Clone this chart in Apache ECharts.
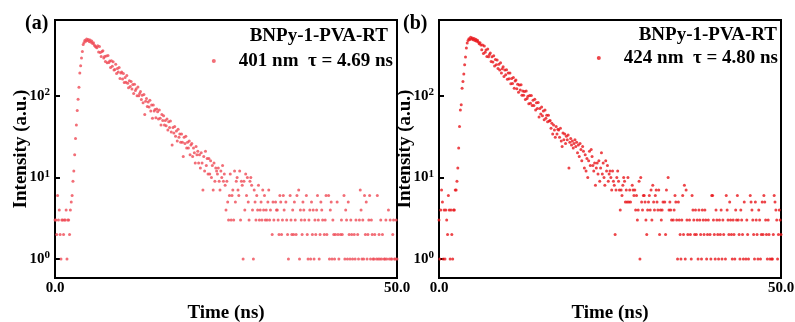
<!DOCTYPE html>
<html>
<head>
<meta charset="utf-8">
<script src="https://cdn.jsdelivr.net/npm/echarts@6/dist/echarts.min.js"></script>
<style>
  html, body { margin: 0; padding: 0; background: #fff; }
  #chart { width: 795px; height: 322px; }
</style>
</head>
<body>
<div id="chart"></div>
<script>
// TCSPC decay curves, one count per 0.125 ns channel, 0 - 50 ns
var channelWidth = 0.125
var xTicks = [0, 50]
var panelLabels = ['(a)', '(b)']
var sampleName = 'BNPy-1-PVA-RT'
var seriesNames = ['401 nm  τ = 4.69 ns', '424 nm  τ = 4.80 ns']

var countsA = [
  3, 3, 2, 6, 3, 4, 2, 1, 3, 3,
  2, 3, 3, 4, 1, 3, 3, 2, 4, 5,
  6, 9, 12, 19, 30, 44, 66, 91, 127, 190,
  234, 290, 350, 426, 452, 481, 468, 497, 476, 489,
  462, 483, 455, 470, 438, 446, 421, 405, 398, 389,
  410, 344, 403, 340, 303, 350, 356, 290, 304, 263,
  308, 255, 312, 256, 267, 222, 270, 231, 261, 208,
  210, 243, 188, 216, 196, 222, 163, 191, 196, 161,
  188, 146, 168, 147, 177, 143, 126, 153, 130, 150,
  121, 138, 107, 139, 116, 122, 100, 128, 100, 107,
  113, 90, 102, 82, 104, 59, 86, 93, 74, 84,
  73, 88, 65, 77, 53, 77, 65, 68, 54, 69,
  64, 52, 67, 53, 44, 59, 50, 57, 44, 50,
  43, 52, 38, 48, 41, 49, 36, 25, 41, 35,
  42, 32, 37, 28, 39, 31, 34, 27, 34, 27,
  18, 31, 26, 32, 23, 27, 23, 28, 19, 25,
  26, 18, 23, 20, 15, 24, 19, 21, 15, 19,
  13, 20, 15, 7, 18, 12, 21, 14, 17, 11,
  17, 11, 16, 10, 14, 7, 15, 9, 13, 12,
  11, 13, 9, 7, 12, 10, 14, 9, 11, 8,
  4, 9, 5, 3, 6, 11, 3, 6, 7, 3,
  12, 5, 9, 10, 7, 6, 12, 3, 9, 8,
  1, 9, 4, 11, 6, 10, 5, 3, 9, 10,
  8, 4, 1, 7, 5, 3, 6, 4, 8, 3,
  4, 5, 3, 7, 4, 6, 3, 4, 3, 5,
  7, 3, 4, 0, 2, 5, 3, 0, 5, 4,
  4, 3, 2, 6, 5, 2, 3, 6, 4, 0,
  5, 3, 2, 1, 0, 6, 3, 2, 4, 2,
  5, 3, 2, 6, 0, 7, 1, 4, 3, 2,
  5, 4, 3, 0, 6, 2, 1, 3, 4, 1,
  5, 2, 4, 1, 3, 2, 4, 6, 3, 1,
  2, 5, 4, 3, 0, 2, 3, 6, 2, 0,
  6, 1, 4, 5, 1, 3, 2, 1, 2, 0,
  5, 2, 1, 0, 2, 3, 2, 0, 6, 1,
  4, 3, 1, 5, 2, 1, 3, 2, 1, 0,
  2, 1, 3, 0, 2, 1, 3, 7, 4, 1,
  3, 1, 6, 2, 5, 1, 2, 3, 6, 1,
  3, 2, 1, 1, 2, 0, 1, 6, 1, 2,
  1, 3, 1, 2, 0, 1, 1, 3, 1, 0,
  4, 1, 3, 1, 1, 2, 3, 1, 1, 3, 1
]

var countsB = [
  3, 1, 4, 7, 5, 1, 4, 1, 4, 3,
  2, 6, 4, 1, 4, 2, 1, 4, 4, 7,
  7, 9, 13, 23, 42, 67, 78, 124, 150, 185,
  240, 300, 385, 445, 478, 502, 489, 521, 496, 510,
  488, 503, 476, 492, 466, 480, 458, 436, 447, 419,
  367, 420, 330, 409, 342, 364, 304, 375, 302, 321,
  334, 263, 301, 259, 310, 232, 278, 240, 274, 216,
  243, 207, 255, 191, 215, 227, 172, 207, 181, 209,
  160, 190, 162, 190, 141, 163, 142, 168, 124, 152,
  156, 122, 139, 111, 136, 118, 137, 102, 115, 102,
  113, 90, 115, 93, 99, 80, 101, 81, 101, 76,
  88, 76, 91, 67, 82, 70, 83, 55, 70, 60,
  73, 57, 65, 51, 67, 53, 58, 48, 58, 49,
  50, 40, 46, 34, 44, 38, 31, 42, 34, 39,
  38, 31, 40, 28, 24, 35, 29, 34, 26, 32,
  29, 33, 13, 27, 30, 25, 28, 23, 26, 29,
  24, 27, 20, 25, 18, 26, 22, 16, 24, 21,
  13, 19, 12, 17, 10, 16, 21, 14, 22, 18,
  14, 12, 15, 8, 13, 15, 11, 16, 9, 13,
  20, 11, 15, 10, 8, 16, 12, 14, 9, 11,
  12, 10, 7, 12, 9, 8, 2, 7, 10, 12,
  9, 7, 4, 7, 6, 8, 10, 9, 5, 7,
  5, 10, 5, 7, 5, 0, 8, 7, 6, 7,
  4, 6, 3, 4, 9, 1, 10, 5, 4, 6,
  6, 5, 3, 2, 4, 5, 6, 4, 7, 3,
  8, 5, 4, 6, 7, 5, 4, 7, 2, 4,
  3, 4, 5, 0, 5, 2, 7, 0, 10, 4,
  5, 4, 3, 0, 3, 4, 6, 5, 3, 1,
  5, 3, 2, 1, 3, 6, 2, 8, 1, 7,
  3, 2, 0, 3, 2, 1, 6, 4, 3, 2,
  4, 2, 3, 1, 4, 3, 2, 1, 4, 3,
  2, 4, 3, 1, 2, 3, 0, 2, 1, 6,
  6, 3, 2, 1, 4, 3, 2, 1, 3, 2,
  4, 1, 3, 2, 0, 1, 6, 4, 3, 2,
  5, 3, 2, 1, 3, 2, 1, 4, 3, 6,
  3, 2, 1, 4, 3, 2, 1, 5, 0, 1,
  3, 2, 1, 0, 6, 5, 4, 3, 2, 1,
  5, 3, 2, 1, 4, 3, 1, 2, 5, 2,
  6, 5, 3, 2, 1, 3, 2, 1, 0, 1,
  1, 2, 6, 5, 4, 3, 1, 2, 4, 3, 2
]

var colors = ['#ef4a55', '#e8161c']
var font = "'Liberation Serif', 'Times New Roman', serif"

// zero counts cannot sit on a log axis, drop them
function toPoints (counts) {
  var pts = []
  counts.forEach(function (c, i) {
    if (c > 0) pts.push([i * channelWidth, c])
  })
  return pts
}

var grids = [
  { left: 55, top: 20, width: 342, height: 258 },
  { left: 439, top: 20, width: 342, height: 258 }
]

function xAxisFor (idx) {
  return {
    type: 'value',
    gridIndex: idx,
    min: xTicks[0],
    max: xTicks[1],
    interval: xTicks[1] - xTicks[0],
    axisLine: { lineStyle: { color: '#000', width: 2 } },
    axisTick: { show: false },
    splitLine: { show: false },
    axisLabel: {
      formatter: function (v) { return v.toFixed(1) },
      margin: 3,
      color: '#000',
      fontFamily: font,
      fontWeight: 'bold',
      fontSize: 15
    },
    name: 'Time (ns)',
    nameLocation: 'middle',
    nameGap: 26,
    nameMoveOverlap: false,
    nameTextStyle: { color: '#000', fontFamily: font, fontWeight: 'bold', fontSize: 19 }
  }
}

function yAxisFor (idx) {
  return {
    type: 'log',
    logBase: 10,
    gridIndex: idx,
    min: 0.585,
    max: 850,
    axisLine: { show: true, lineStyle: { color: '#000', width: 2 } },
    axisTick: { inside: true, length: 5, lineStyle: { color: '#000', width: 2 } },
    minorTick: { show: false },
    splitLine: { show: false },
    axisLabel: {
      margin: 5,
      color: '#000',
      fontFamily: font,
      fontWeight: 'bold',
      fontSize: 15,
      formatter: function (v) {
        var p = Math.log10(v)
        if (Math.abs(p - Math.round(p)) > 1e-6) return ''
        return '10{s|' + Math.round(p) + '}'
      },
      rich: {
        s: { fontSize: 11, fontFamily: font, fontWeight: 'bold', color: '#000', padding: [0, 0, 7, 0] }
      }
    },
    name: 'Intensity (a.u.)',
    nameLocation: 'middle',
    nameGap: 24,
    nameMoveOverlap: false,
    nameTextStyle: { color: '#000', fontFamily: font, fontWeight: 'bold', fontSize: 19 }
  }
}

var titleStyle = { color: '#000', fontFamily: font, fontWeight: 'bold', fontSize: 19, lineHeight: 20 }
var labelStyle = { color: '#000', fontFamily: font, fontWeight: 'bold', fontSize: 20, lineHeight: 20 }

var option = {
  animation: false,
  backgroundColor: '#fff',
  title: [
    { text: panelLabels[0], left: 25, top: 14, padding: 0, textStyle: labelStyle },
    { text: panelLabels[1], left: 403, top: 14, padding: 0, textStyle: labelStyle },
    { text: sampleName, right: 407, top: 26, padding: 0, textStyle: titleStyle },
    { text: sampleName, right: 18, top: 25, padding: 0, textStyle: titleStyle }
  ],
  legend: [
    {
      data: [seriesNames[0]], right: 402, top: 51, padding: 0,
      icon: 'circle', itemWidth: 40, itemHeight: 4,
      textStyle: titleStyle
    },
    {
      data: [seriesNames[1]], right: 17, top: 48, padding: 0,
      icon: 'circle', itemWidth: 40, itemHeight: 4,
      textStyle: titleStyle
    }
  ],
  grid: grids.map(function (g) {
    return Object.assign({
      show: true, borderColor: '#000', borderWidth: 2,
      containLabel: false, outerBoundsMode: 'none'
    }, g)
  }),
  xAxis: [xAxisFor(0), xAxisFor(1)],
  yAxis: [yAxisFor(0), yAxisFor(1)],
  series: [
    {
      name: seriesNames[0],
      type: 'scatter',
      xAxisIndex: 0,
      yAxisIndex: 0,
      symbolSize: 3,
      itemStyle: { color: colors[0] },
      data: toPoints(countsA)
    },
    {
      name: seriesNames[1],
      type: 'scatter',
      xAxisIndex: 1,
      yAxisIndex: 1,
      symbolSize: 3,
      itemStyle: { color: colors[1] },
      data: toPoints(countsB)
    }
  ]
}

var chart = echarts.init(document.getElementById('chart'))
chart.setOption(option)
window.addEventListener('resize', function () { chart.resize() })
</script>
</body>
</html>
